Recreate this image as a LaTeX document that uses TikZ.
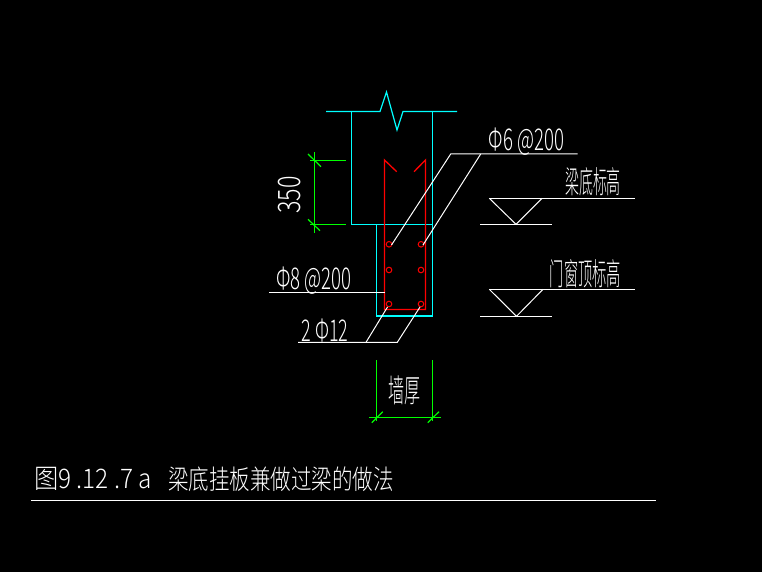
\documentclass[tikz,border=0pt]{standalone}
\usepackage{fontspec}
\usepackage{tikz}
\usetikzlibrary{positioning}
\newfontfamily\cjk{Noto Sans CJK SC Light}
\definecolor{wallcyan}{RGB}{0,255,255}
\definecolor{barred}{RGB}{255,0,0}
\definecolor{dimgreen}{RGB}{0,255,0}
\begin{document}
\begin{tikzpicture}[x=1pt,y=-1pt]
	\tikzset{every node/.style={text=white,inner sep=0pt,font=\cjk}}
	\tikzset{narrow/.style={transform shape,xscale=#1}}
	\tikzset{wall/.style={wallcyan,line width=1.2pt}}
	\tikzset{bar/.style={barred,line width=1.3pt}}
	\tikzset{dim/.style={dimgreen,line width=1.2pt}}
	\tikzset{leader/.style={white,line width=1pt}}
	\fill[black] (0,0) rectangle (762,572);
	\useasboundingbox (0,0) rectangle (762,572);
	\draw[wall] (326,111.5) -- (380,111.5) -- (386.5,92) -- (397,130) -- (403,111.5) -- (457,111.5);
	\draw[wall] (351.5,111.5) -- (351.5,224.5) -- (432.5,224.5);
	\draw[wall] (432.5,111.5) -- (432.5,316) -- (376.5,316) -- (376.5,224.5);
	\draw[bar] (396.7,171.7) -- (384.5,160) -- (384.5,309.5) -- (425.5,309.5) -- (425.5,160) -- (414,171.7);
	\foreach \y in {244.3,270,304} {
		\draw[barred,line width=1pt] (389,\y) circle (2.8);
		\draw[barred,line width=1pt] (421,\y) circle (2.8);
	}
	\draw[leader] (391.5,245) -- (450.7,154) -- (577.7,154);
	\draw[leader] (423,245) -- (480.7,154);
	\draw[leader] (269,292) -- (384.5,292);
	\draw[leader] (298,342.3) -- (397.3,342.3) -- (420,307);
	\draw[leader] (366,342.3) -- (387.5,307);
	\draw[dim] (314.3,152) -- (314.3,233.3);
	\draw[dim] (310,160.3) -- (346,160.3);
	\draw[dim] (310,224.3) -- (346,224.3);
	\draw[dim] (308,154) -- (321,166.7);
	\draw[dim] (308,219.3) -- (320,230.7);
	\draw[dim] (376.5,360) -- (376.5,421);
	\draw[dim] (432.5,360) -- (432.5,421);
	\draw[dim] (369,417.3) -- (440.7,417.3);
	\draw[dim] (371.7,422.7) -- (382.7,411.7);
	\draw[dim] (427.7,422.7) -- (439,411.7);
	\draw[leader] (489.3,198.3) -- (634.7,198.3);
	\draw[leader] (489.3,198.3) -- (516,224.3) -- (542,198.3);
	\draw[leader] (480,224.3) -- (552,224.3);
	\draw[leader] (489.3,289.3) -- (634.7,289.3);
	\draw[leader] (489.3,289.3) -- (516.5,316.3) -- (543,289.3);
	\draw[leader] (480,316.3) -- (552,316.3);
	\draw[leader] (31,500.3) -- (656,500.3);
	\node[rotate=90,font=\cjk\fontsize{31}{31}\selectfont,narrow=.75] (dimheight) at (290,195) {350};
	\node[font=\cjk\fontsize{32}{32}\selectfont,narrow=.5] (dimwall) at (404.5,390.5) {墙厚};
	\node[font=\cjk\fontsize{30}{30}\selectfont,narrow=.62] (stirrupa) at (526.5,142) {Φ6 @200};
	\node[font=\cjk\fontsize{30}{30}\selectfont,narrow=.62] (stirrupb) at (314,280.5) {Φ8 @200};
	\node[font=\cjk\fontsize{30}{30}\selectfont,narrow=.6] (mainbar) at (325,331) {2 Φ12};
	\node[font=\cjk\fontsize{31}{31}\selectfont,narrow=.45] (beamlevel) at (593,181.5) {梁底标高};
	\node[font=\cjk\fontsize{31}{31}\selectfont,narrow=.46] (doorlevel) at (585.5,273.5) {门窗顶标高};
	\node[font=\cjk\fontsize{27}{27}\selectfont,narrow=.9,anchor=west] (figno) at (34,479) {图9 .12 .7 a};
	\node[font=\cjk\fontsize{27}{27}\selectfont,narrow=.76,anchor=west] (figtitle) at (168,479) {梁底挂板兼做过梁的做法};
\end{tikzpicture}
\end{document}
